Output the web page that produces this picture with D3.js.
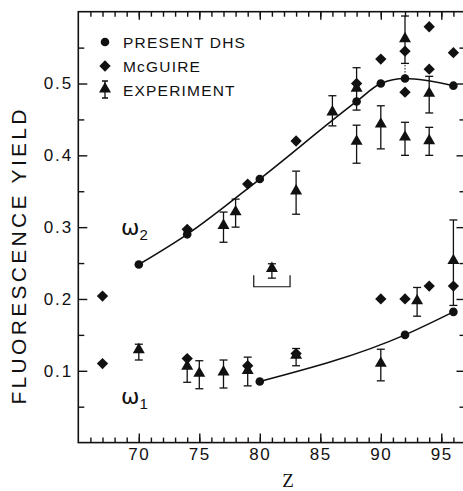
<!DOCTYPE html>
<html>
<head>
<meta charset="utf-8">
<script src="https://cdn.jsdelivr.net/npm/d3@7"></script>
<style>
  body { margin: 0; background: #fff; }
  svg { display: block; }
</style>
</head>
<body>
<div id="chart"></div>
<script>
// Present DHS calculation (circles joined by a line)
const dhs2Z = [70, 74, 80, 88, 90, 92, 96];
const dhs2Yield = [0.248, 0.290, 0.367, 0.475, 0.500, 0.507, 0.497];
const dhs1Z = [80, 92, 96];
const dhs1Yield = [0.085, 0.150, 0.182];

// McGuire (diamonds)
const mcgZ = [67, 74, 79, 83, 88, 90, 92, 92, 94, 94, 96,
              67, 74, 79, 83, 90, 92, 94, 96];
const mcgYield = [0.204, 0.297, 0.360, 0.420, 0.500, 0.534, 0.545, 0.488, 0.579, 0.520, 0.543,
                  0.110, 0.117, 0.107, 0.124, 0.200, 0.200, 0.218, 0.218];

// Experiment (triangles with error bars)
const expZ = [70, 74, 75, 77, 79, 83, 90, 93, 96,
              77, 78, 81, 83, 86, 88, 88, 90, 92, 92, 94, 94];
const expYield = [0.128, 0.105, 0.095, 0.097, 0.099, 0.120, 0.109, 0.196, 0.252,
                  0.301, 0.320, 0.241, 0.349, 0.459, 0.492, 0.418, 0.442, 0.424, 0.561, 0.485, 0.419];
const expLow = [0.115, 0.084, 0.075, 0.076, 0.079, 0.107, 0.086, 0.176, 0.191,
                0.279, 0.300, 0.229, 0.318, 0.441, 0.463, 0.389, 0.409, 0.400, 0.528, 0.459, 0.400];
const expHigh = [0.137, 0.117, 0.114, 0.115, 0.119, 0.131, 0.130, 0.216, 0.310,
                 0.321, 0.339, 0.249, 0.378, 0.483, 0.522, 0.442, 0.469, 0.446, 0.594, 0.510, 0.439];

// Z range bracket under the averaged point
const bracketZ = [79.5, 82.5];
const bracketYield = [0.217, 0.233];

const zTicks = [70, 75, 80, 85, 90, 95];
const yTicks = [0.1, 0.2, 0.3, 0.4, 0.5];
const legendLabels = ["PRESENT DHS", "McGUIRE", "EXPERIMENT"];

const w = 463, h = 491;
const svg = d3.select("#chart").append("svg").attr("width", w).attr("height", h);

const x = d3.scaleLinear().domain([65, 97]).range([78.3, 465.5]);
const y = d3.scaleLinear().domain([0, 0.6]).range([442.6, 11.7]);

const ink = "#111";
const sans = "'Liberation Sans', Arial, sans-serif";

// frame
svg.append("rect")
    .attr("x", x(65)).attr("y", y(0.6))
    .attr("width", x(97) - x(65)).attr("height", y(0) - y(0.6))
    .attr("fill", "none").attr("stroke", ink).attr("stroke-width", 1.6);

const zMinor = d3.range(66, 97);
const yMinor = d3.range(0.05, 0.6, 0.1);

function tickAxis(axis, g) {
    g.call(axis);
    g.select(".domain").remove();
    g.selectAll(".tick line").attr("stroke", ink).attr("stroke-width", 1.4);
    return g;
}

// bottom and top ticks
tickAxis(d3.axisBottom(x).tickValues(zMinor).tickSize(-5).tickFormat(""),
    svg.append("g").attr("transform", `translate(0,${y(0)})`));
tickAxis(d3.axisTop(x).tickValues(zMinor).tickSize(-5).tickFormat(""),
    svg.append("g").attr("transform", `translate(0,${y(0.6)})`));
const xAx = tickAxis(d3.axisBottom(x).tickValues(zTicks).tickSize(-9).tickPadding(16).tickFormat(d3.format("d")),
    svg.append("g").attr("transform", `translate(0,${y(0)})`));
xAx.selectAll("text").attr("font-family", sans).attr("font-size", 17)
    .attr("letter-spacing", 1.5).attr("fill", ink).attr("dy", "0.1em");
tickAxis(d3.axisTop(x).tickValues(zTicks).tickSize(-8).tickFormat(""),
    svg.append("g").attr("transform", `translate(0,${y(0.6)})`));

// left and right ticks
tickAxis(d3.axisLeft(y).tickValues(yMinor).tickSize(-6).tickFormat(""),
    svg.append("g").attr("transform", `translate(${x(65)},0)`));
tickAxis(d3.axisRight(y).tickValues(yMinor).tickSize(-6).tickFormat(""),
    svg.append("g").attr("transform", `translate(${x(97)},0)`));
const yAx = tickAxis(d3.axisLeft(y).tickValues(yTicks).tickSize(-9).tickPadding(5).tickFormat(d3.format(".1f")),
    svg.append("g").attr("transform", `translate(${x(65)},0)`));
yAx.selectAll("text").attr("font-family", sans).attr("font-size", 17)
    .attr("letter-spacing", 2).attr("fill", ink);
tickAxis(d3.axisRight(y).tickValues(yTicks).tickSize(-9).tickFormat(""),
    svg.append("g").attr("transform", `translate(${x(97)},0)`));

// axis titles
svg.append("text")
    .attr("transform", "translate(26,257) rotate(-90)")
    .attr("text-anchor", "middle")
    .attr("font-family", sans).attr("font-size", 21).attr("fill", ink)
    .attr("textLength", 295).attr("lengthAdjust", "spacing")
    .text("FLUORESCENCE  YIELD");

svg.append("text")
    .attr("x", 288).attr("y", 487)
    .attr("text-anchor", "middle")
    .attr("font-family", "'Liberation Serif', 'DejaVu Serif', serif")
    .attr("font-size", 19).attr("fill", ink)
    .text("Z");

// DHS curves
const line = d3.line().x(d => x(d[0])).y(d => y(d[1])).curve(d3.curveMonotoneX);
const dhs2 = dhs2Z.map((z, i) => [z, dhs2Yield[i]]);
const dhs1 = dhs1Z.map((z, i) => [z, dhs1Yield[i]]);
[dhs2, dhs1].forEach(pts => {
    svg.append("path").datum(pts).attr("d", line)
        .attr("fill", "none").attr("stroke", ink).attr("stroke-width", 1.6);
    svg.append("g").selectAll("circle").data(pts).join("circle")
        .attr("cx", d => x(d[0])).attr("cy", d => y(d[1])).attr("r", 4.3)
        .attr("fill", ink);
});

// McGuire diamonds
const diamond = d3.symbol().type(d3.symbolSquare).size(64);
svg.append("g").selectAll("path").data(mcgZ.map((z, i) => [z, mcgYield[i]])).join("path")
    .attr("d", diamond)
    .attr("transform", d => `translate(${x(d[0])},${y(d[1])}) rotate(45)`)
    .attr("fill", ink);

// experiment error bars and triangles
const triangle = d3.symbol().type(d3.symbolTriangle).size(62);
const exp = expZ.map((z, i) => ({z, v: expYield[i], lo: expLow[i], hi: expHigh[i]}));
const cap = 4;
const eb = svg.append("g").attr("stroke", ink).attr("stroke-width", 1.3);
exp.forEach(d => {
    const cx = x(d.z);
    eb.append("line").attr("x1", cx).attr("x2", cx).attr("y1", y(d.lo)).attr("y2", y(d.hi));
    eb.append("line").attr("x1", cx - cap).attr("x2", cx + cap).attr("y1", y(d.lo)).attr("y2", y(d.lo));
    eb.append("line").attr("x1", cx - cap).attr("x2", cx + cap).attr("y1", y(d.hi)).attr("y2", y(d.hi));
});
svg.append("g").selectAll("path").data(exp).join("path")
    .attr("d", triangle)
    .attr("transform", d => `translate(${x(d.z)},${y(d.v) - 1})`)
    .attr("fill", ink);

// dotted link at Z=92 between DHS point and experiment bar
svg.append("line")
    .attr("x1", x(92)).attr("x2", x(92))
    .attr("y1", y(dhs2Yield[5])).attr("y2", y(expLow[18]))
    .attr("stroke", ink).attr("stroke-width", 1).attr("stroke-dasharray", "1.5,1.5");

// Z range bracket
svg.append("path")
    .attr("d", `M${x(bracketZ[0])},${y(bracketYield[1])}V${y(bracketYield[0])}H${x(bracketZ[1])}V${y(bracketYield[1])}`)
    .attr("fill", "none").attr("stroke", ink).attr("stroke-width", 1.2);

// omega labels
function omega(sub, px, py) {
    const t = svg.append("text").attr("x", px).attr("y", py)
        .attr("font-family", "'DejaVu Sans', sans-serif").attr("font-size", 22).attr("fill", ink);
    t.append("tspan").text("ω");
    t.append("tspan").attr("dy", 5).attr("font-size", 15).attr("font-family", sans).text(sub);
}
omega("2", 121, 235);
omega("1", 121, 404);

// legend
const lg = svg.append("g").attr("transform", "translate(105,42)");
legendLabels.forEach((label, i) => {
    lg.append("text").attr("x", 18).attr("y", i * 24 + 6)
        .attr("font-family", sans).attr("font-size", 15.5).attr("letter-spacing", 1.2)
        .attr("fill", ink).text(label);
});
lg.append("circle").attr("cx", 0).attr("cy", 0).attr("r", 4.3).attr("fill", ink);
lg.append("path").attr("d", diamond).attr("transform", "translate(0,24) rotate(45)").attr("fill", ink);
lg.append("path").attr("d", triangle).attr("transform", "translate(0,47)").attr("fill", ink);
lg.append("path").attr("d", "M-3,39H3M0,39V56M-3,56H3").attr("stroke", ink).attr("stroke-width", 1.3).attr("fill", "none");
</script>
</body>
</html>
